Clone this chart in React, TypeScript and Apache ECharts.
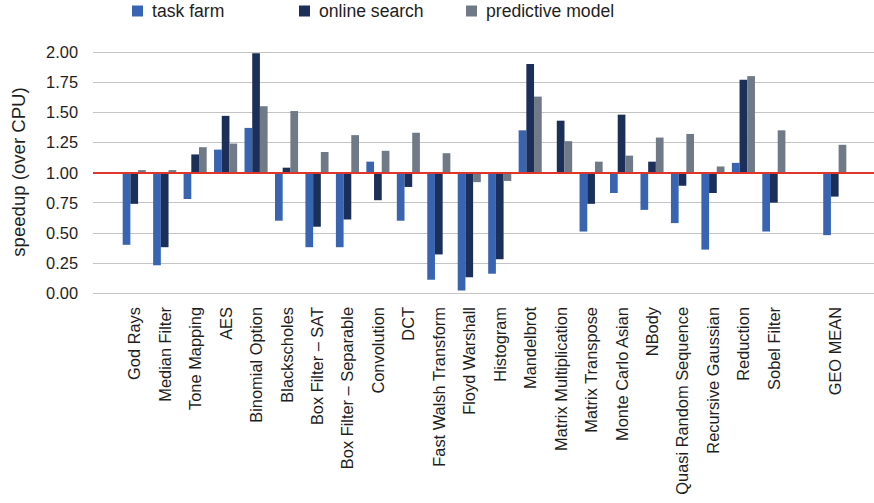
import React, { useEffect, useRef } from "react";
import * as echarts from "echarts";

// Benchmarks (an empty slot separates the geometric mean)
const categories = [
  "God Rays",
  "Median Filter",
  "Tone Mapping",
  "AES",
  "Binomial Option",
  "Blackscholes",
  "Box Filter – SAT",
  "Box Filter – Separable",
  "Convolution",
  "DCT",
  "Fast Walsh Transform",
  "Floyd Warshall",
  "Histogram",
  "Mandelbrot",
  "Matrix Multiplication",
  "Matrix Transpose",
  "Monte Carlo Asian",
  "NBody",
  "Quasi Random Sequence",
  "Recursive Gaussian",
  "Reduction",
  "Sobel Filter",
  "",
  "GEO MEAN",
];

// Speedup over CPU for each strategy
const taskFarm = [
  0.4, 0.23, 0.78, 1.19, 1.37, 0.6, 0.38, 0.38, 1.09, 0.6, 0.11, 0.02, 0.16,
  1.35, 1.0, 0.51, 0.83, 0.69, 0.58, 0.36, 1.08, 0.51, null, 0.48,
];
const onlineSearch = [
  0.74, 0.38, 1.15, 1.47, 1.99, 1.04, 0.55, 0.61, 0.77, 0.88, 0.32, 0.13, 0.28,
  1.9, 1.43, 0.74, 1.48, 1.09, 0.89, 0.83, 1.77, 0.75, null, 0.8,
];
const predictiveModel = [
  1.02, 1.02, 1.21, 1.24, 1.55, 1.51, 1.17, 1.31, 1.18, 1.33, 1.16, 0.92, 0.93,
  1.63, 1.26, 1.09, 1.14, 1.29, 1.32, 1.05, 1.8, 1.35, null, 1.23,
];

// Speedup baseline (CPU = 1.0); bars grow up or down from it
const BASELINE = 1;
const yTicks = { min: 0, max: 2, interval: 0.25 };

const FONT = "'Liberation Sans', Arial, Helvetica, sans-serif";
const COLORS = ["#3864b1", "#1b2f58", "#6f7a86"];

const relative = (arr: (number | null)[]) =>
  arr.map((v) => (v == null ? null : +(v - BASELINE).toFixed(4)));

export default function App() {
  const ref = useRef<HTMLDivElement>(null);

  useEffect(() => {
    if (!ref.current) return;
    const chart = echarts.init(ref.current, null, { renderer: "svg" });

    const yMin = yTicks.min - BASELINE;
    const yMax = yTicks.max - BASELINE;
    const top = 52;
    const bottom = 210;

    const seriesDefs = [
      { name: "task farm", data: taskFarm },
      { name: "online search", data: onlineSearch },
      { name: "predictive model", data: predictiveModel },
    ];

    const legendLefts = [132, 299, 466];

    chart.setOption({
      animation: false,
      color: COLORS,
      textStyle: { fontFamily: FONT },
      legend: seriesDefs.map((s, i) => ({
        data: [s.name],
        left: legendLefts[i],
        top: 2,
        padding: 0,
        itemWidth: 11,
        itemHeight: 11,
        itemGap: 0,
        icon: "rect",
        textStyle: { fontSize: 17.6, color: "#1e1e1e", fontFamily: FONT, padding: [0, 0, 0, 4] },
      })),
      grid: [
        // bars
        { left: 119, right: 24, top, bottom },
        // full-width gridlines and baseline
        { left: 93, right: 0, top, bottom },
      ],
      xAxis: [
        {
          type: "category",
          gridIndex: 0,
          data: categories,
          axisLine: { show: false },
          axisTick: { show: false },
          axisLabel: {
            interval: 0,
            rotate: 90,
            margin: 14,
            fontSize: 16.4,
            color: "#1e1e1e",
            fontFamily: FONT,
          },
        },
        {
          type: "value",
          gridIndex: 1,
          min: 0,
          max: 1,
          show: false,
        },
      ],
      yAxis: [
        {
          type: "value",
          gridIndex: 0,
          min: yMin,
          max: yMax,
          interval: yTicks.interval,
          show: false,
          splitLine: { show: false },
        },
        {
          type: "value",
          gridIndex: 1,
          min: yMin,
          max: yMax,
          interval: yTicks.interval,
          axisLine: { show: false },
          axisTick: { show: false },
          axisLabel: {
            margin: 15,
            fontSize: 16.4,
            color: "#1e1e1e",
            fontFamily: FONT,
            formatter: (v: number) => (v + BASELINE).toFixed(2),
          },
          splitLine: { show: true, lineStyle: { color: "#c4c4c4", width: 1.2 } },
        },
      ],
      series: [
        ...seriesDefs.map((s) => ({
          name: s.name,
          type: "bar",
          xAxisIndex: 0,
          yAxisIndex: 0,
          data: relative(s.data),
          barWidth: 7.7,
          barGap: "0%",
          z: 3,
        })),
        {
          name: "baseline",
          type: "line",
          xAxisIndex: 1,
          yAxisIndex: 1,
          data: [],
          z: 6,
          markLine: {
            silent: true,
            symbol: "none",
            label: { show: false },
            lineStyle: { color: "#e0352d", width: 2, type: "solid" },
            data: [{ yAxis: 0 }],
          },
        },
      ],
      graphic: [
        {
          type: "text",
          x: 18,
          y: 172,
          rotation: Math.PI / 2,
          style: {
            text: "speedup (over CPU)",
            fontSize: 18.6,
            fontFamily: FONT,
            fill: "#1e1e1e",
            textAlign: "center",
            textVerticalAlign: "middle",
          },
        },
      ],
    });

    return () => chart.dispose();
  }, []);

  return (
    <div
      ref={ref}
      style={{ position: "absolute", left: 0, top: 0, width: 874, height: 503, background: "#fff" }}
    />
  );
}
